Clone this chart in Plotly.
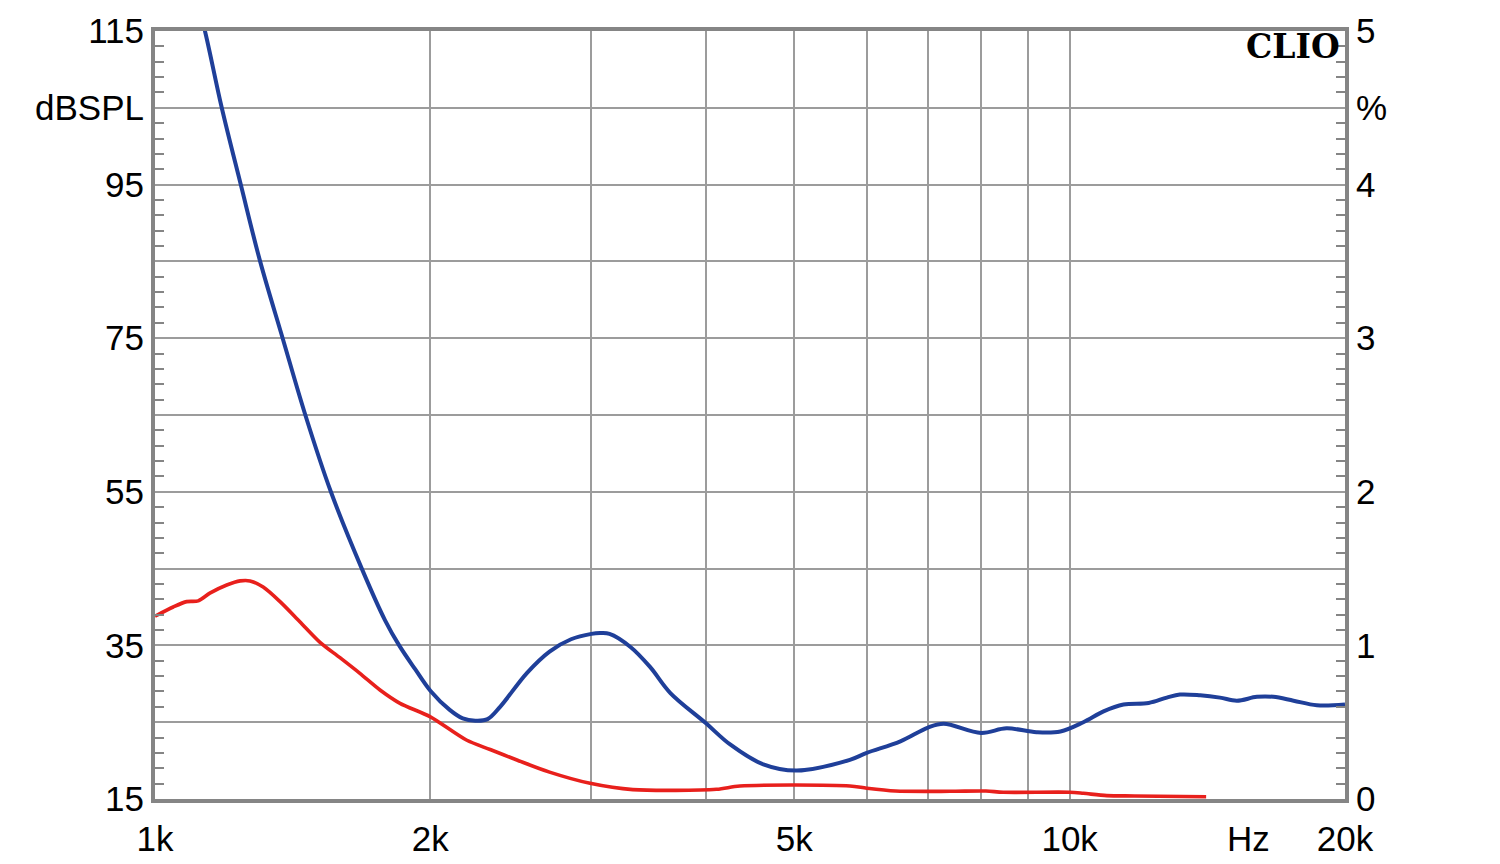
import plotly.graph_objects as go

# Frequency response (dBSPL, left axis)
spl_freq = [1100, 1134, 1183, 1241, 1303, 1379, 1460, 1557, 1683, 1784, 1849, 1925,
            2000, 2100, 2170, 2240, 2310, 2384, 2550, 2700, 2850, 3000, 3066, 3140, 3310, 3477,
            3660, 4000, 4254, 4625, 5030, 5750, 6000, 6530, 7000, 7280, 8000, 8530, 9200, 9770,
            10350, 10890, 11450, 12200, 12770, 13200, 13890, 14600, 15230, 16020, 16700, 17570,
            18630, 20000]
spl_db = [121, 115, 105, 95, 85, 75, 65, 55, 45, 38.3, 35, 31.9,
          29.1, 26.6, 25.5, 25.2, 25.4, 27.0, 31.4, 34.2, 35.8, 36.5, 36.6, 36.5, 34.8, 32.2,
          28.8, 24.9, 22.1, 19.5, 18.7, 20.1, 21.0, 22.5, 24.3, 24.8, 23.6, 24.2, 23.7, 23.8,
          25.0, 26.4, 27.3, 27.5, 28.2, 28.6, 28.5, 28.2, 27.8, 28.3, 28.3, 27.8,
          27.2, 27.3]

# Total harmonic distortion (%, right axis)
thd_freq = [1000, 1047, 1083, 1115, 1148, 1198, 1239, 1270, 1313, 1370, 1440, 1515, 1593,
            1675, 1762, 1853, 2000, 2190, 2325, 2487, 2700, 2990, 3330, 4110, 4360, 5750,
            6000, 6450, 7400, 8100, 8460, 10000, 10350, 10980, 11780, 14100]
thd_pct = [1.19, 1.25, 1.285, 1.29, 1.34, 1.393, 1.42, 1.42, 1.38, 1.285, 1.154, 1.02, 0.92,
           0.818, 0.71, 0.623, 0.535, 0.384, 0.322, 0.254, 0.175, 0.102, 0.061, 0.063, 0.085, 0.085,
           0.07, 0.052, 0.05, 0.052, 0.044, 0.044, 0.037, 0.022, 0.02, 0.015]

x_tickvals = [1000, 2000, 3000, 4000, 5000, 6000, 7000, 8000, 9000, 10000, 20000]
x_ticktext = ['1k', '2k', '', '', '5k', '', '', '', '', '10k', '20k']
y_tickvals = [15, 25, 35, 45, 55, 65, 75, 85, 95, 105, 115]
y_ticktext = ['15', '', '35', '', '55', '', '75', '', '95', 'dBSPL', '115']
y2_tickvals = [0, 0.5, 1, 1.5, 2, 2.5, 3, 3.5, 4, 4.5, 5]
y2_ticktext = ['0', '', '1', '', '2', '', '3', '', '4', '%', '5']

y_minor = [v for v in range(17, 115, 2) if (v - 15) % 10 != 0]
y2_minor = [round(i * 0.1, 1) for i in range(1, 50) if i % 5 != 0]

BLUE = '#1f3f99'
RED = '#e8201c'
GRID = '#9c9c9c'
BORDER = '#858585'
FONT = dict(family='Liberation Sans, Arial, sans-serif', size=35, color='black')

fig = go.Figure()
fig.add_trace(go.Scatter(x=spl_freq, y=spl_db, mode='lines',
                         line=dict(color=BLUE, width=4, shape='spline', smoothing=1.0),
                         showlegend=False, yaxis='y'))
fig.add_trace(go.Scatter(x=thd_freq, y=thd_pct, mode='lines',
                         line=dict(color=RED, width=3.6, shape='spline', smoothing=0.8),
                         showlegend=False, yaxis='y2'))

fig.update_layout(
    width=1500, height=864,
    margin=dict(l=147, r=163, t=23, b=73),
    paper_bgcolor='white', plot_bgcolor='white',
    font=FONT,
    xaxis=dict(type='log', range=[3, 4.30103], tickvals=x_tickvals, ticktext=x_ticktext,
               showgrid=True, gridcolor=GRID, gridwidth=1.5, ticks='', ticklabelstandoff=6,
               showline=True, linecolor=BORDER, linewidth=4, mirror=True, zeroline=False,
               automargin=False, tickfont=FONT),
    yaxis=dict(range=[15, 115], tickvals=y_tickvals, ticktext=y_ticktext,
               showgrid=True, gridcolor=GRID, gridwidth=1.5, ticks='', zeroline=False,
               showline=True, linecolor=BORDER, linewidth=4, mirror=True, automargin=False,
               minor=dict(ticks='inside', tickmode='array', tickvals=y_minor, ticklen=9,
                          tickcolor=BORDER, tickwidth=1.5, showgrid=False),
               tickfont=FONT),
    yaxis2=dict(range=[0, 5], overlaying='y', side='right', tickvals=y2_tickvals, ticktext=y2_ticktext,
                showgrid=False, ticks='', zeroline=False, automargin=False,
                showline=True, linecolor=BORDER, linewidth=4,
                minor=dict(ticks='inside', tickmode='array', tickvals=y2_minor, ticklen=9,
                           tickcolor=BORDER, tickwidth=1.5, showgrid=False),
                tickfont=FONT),
)

fig.add_annotation(x=4.195, y=0, xref='x', yref='paper', text='Hz', showarrow=False,
                   yanchor='top', yshift=-18, font=FONT)
fig.add_annotation(x=1, y=1, xref='paper', yref='paper', text='<b>CLIO</b>', showarrow=False,
                   xanchor='right', yanchor='top', xshift=-3, yshift=6,
                   font=dict(family='DejaVu Serif, serif', size=33, color='black'))

fig.write_html('out.html')
